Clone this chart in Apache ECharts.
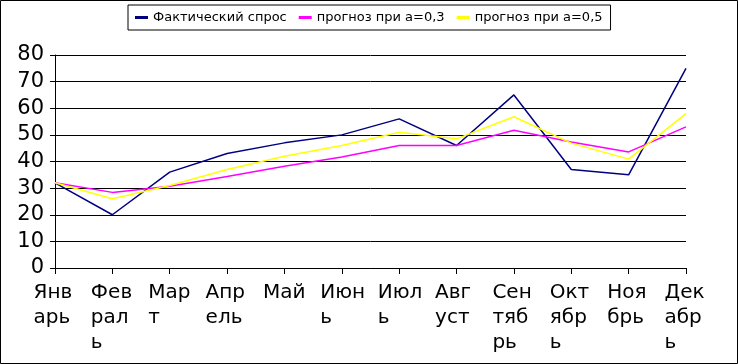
<!DOCTYPE html>
<html><head><meta charset="utf-8">
<script src="https://cdn.jsdelivr.net/npm/echarts@6/dist/echarts.min.js"></script>
<style>html,body{margin:0;padding:0;background:#fff}#c{width:738px;height:364px}</style>
</head><body><div id="c"></div>
<script>
var categories = ['Январь','Февраль','Март','Апрель','Май','Июнь','Июль','Август','Сентябрь','Октябрь','Ноябрь','Декабрь'];
var actual = [32, 20, 36, 43, 47, 50, 56, 46, 65, 37, 35, 75];
var forecast03 = [32, 28.4, 30.7, 34.4, 38.2, 41.7, 46.0, 46.0, 51.7, 47.3, 43.6, 53.0];
var forecast05 = [32, 26, 31, 37, 42, 46, 51, 48.5, 56.8, 46.9, 40.9, 58];
var seriesNames = ['Фактический спрос', 'прогноз при а=0,3', 'прогноз при а=0,5'];
var yTicks = {min: 0, max: 80, interval: 10};

function wrap(s){
  var parts = [];
  for (var i = 0; i < s.length; i += 3) parts.push('{a|' + s.slice(i, i + 3) + '}');
  return parts.join('\n');
}
var font = 'DejaVu Sans';
var chart = echarts.init(document.getElementById('c'), null, {renderer: 'canvas'});
chart.setOption({
  animation: false,
  backgroundColor: '#fff',
  textStyle: {fontFamily: font},
  graphic: [{type: 'rect', shape: {x: 0.5, y: 0.5, width: 737, height: 363}, style: {fill: 'none', stroke: '#000', lineWidth: 1}, silent: true}],
  legend: {
    left: 128, top: 5,
    padding: [6, 8, 6, 7],
    borderColor: '#000', borderWidth: 1,
    itemWidth: 13, itemHeight: 3, itemGap: 12,
    icon: 'rect',
    textStyle: {fontSize: 13, color: '#000', fontFamily: font},
    data: seriesNames
  },
  grid: {left: 55, right: 52, top: 55, bottom: 96, containLabel: false},
  xAxis: {
    type: 'category', data: categories, boundaryGap: false,
    axisLine: {lineStyle: {color: '#000', width: 1}},
    axisTick: {show: true, alignWithLabel: true, length: 6, lineStyle: {color: '#000'}},
    axisLabel: {
      interval: 0, margin: 12, color: '#000', fontFamily: font, fontSize: 20,
      formatter: function(v){ return wrap(v); },
      rich: {a: {fontSize: 20, lineHeight: 25, width: 43, align: 'left', fontFamily: font, color: '#000'}}
    },
    splitLine: {show: false}
  },
  yAxis: {
    type: 'value', min: yTicks.min, max: yTicks.max, interval: yTicks.interval,
    axisLine: {show: true, lineStyle: {color: '#000', width: 1}},
    axisTick: {show: true, length: 5, lineStyle: {color: '#000'}},
    axisLabel: {margin: 11, color: '#000', fontSize: 21, fontFamily: font},
    splitLine: {show: true, lineStyle: {color: '#000', width: 1}}
  },
  series: [
    {name: seriesNames[0], type: 'line', data: actual, symbol: 'none', color: '#000080', lineStyle: {width: 1.5, color: '#000080'}},
    {name: seriesNames[1], type: 'line', data: forecast03, symbol: 'none', color: '#FF00FF', lineStyle: {width: 1.5, color: '#FF00FF'}},
    {name: seriesNames[2], type: 'line', data: forecast05, symbol: 'none', color: '#FFFF00', lineStyle: {width: 1.5, color: '#FFFF00'}}
  ]
});
</script></body></html>
